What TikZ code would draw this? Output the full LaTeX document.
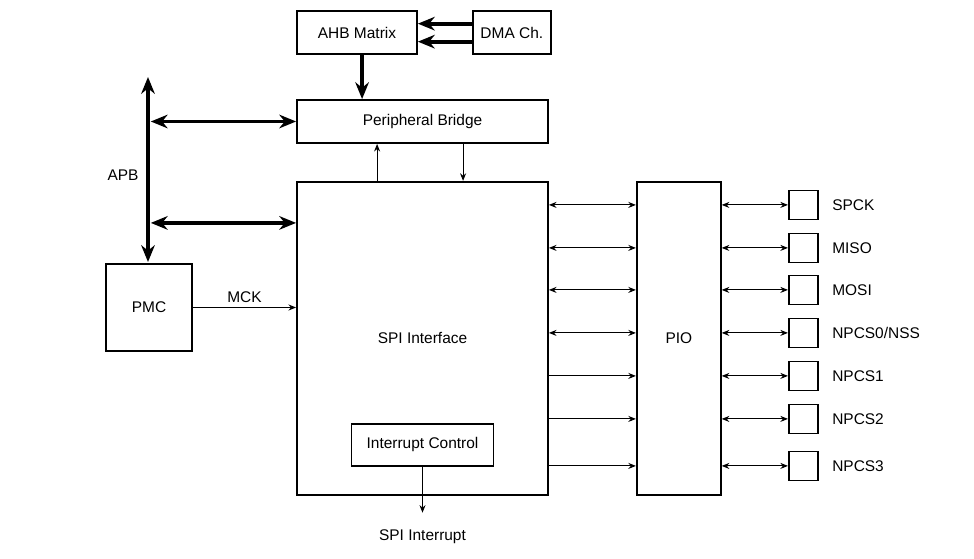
\documentclass[tikz,border=0pt]{standalone}
\usepackage{fontspec}
\setmainfont{Liberation Sans}
\usetikzlibrary{arrows.meta,positioning}

\begin{document}
\begin{tikzpicture}[
        node distance=1cm,
        font=\fontsize{11}{13}\selectfont,
        box/.style={draw, line width=1.3pt, align=center, inner sep=0pt},
        pinbox/.style={draw, line width=1.1pt, minimum size=0.725cm, inner sep=0pt},
        bus/.style={line width=2.8pt, >={Stealth[length=0.42cm, width=0.34cm]}},
        wire/.style={line width=0.7pt, >={Stealth[length=0.19cm, width=0.15cm]}}
    ]
        \useasboundingbox (0,0) rectangle (24.35,-13.975);

        \node[box, minimum width=6.275cm, minimum height=1.075cm] (bridge) at (10.5625,-3.0375) {Peripheral Bridge};
        \node[box, minimum width=3cm, minimum height=1.075cm, above=1.1cm of bridge.north west, anchor=south west] (ahb) {AHB Matrix};
        \node[box, minimum width=1.95cm, minimum height=1.075cm, right=1.35cm of ahb] (dma) {DMA Ch.};

        \node[box, minimum width=6.275cm, minimum height=7.825cm, below=0.925cm of bridge] (spi) {SPI Interface};
        \node[box, minimum width=3.55cm, minimum height=1.05cm, above=0.725cm of spi.south] (intc) {Interrupt Control};
        \node[below=1.45cm of intc] (irq) {SPI Interrupt};

        \node[box, minimum width=2.1cm, minimum height=7.825cm, right=2.175cm of spi] (pio) {PIO};
        \node[box, minimum width=2.15cm, minimum height=2.175cm] (pmc) at (3.725,-7.6875) {PMC};

        \coordinate (apbtop) at (3.7,-1.925);
        \coordinate (apbbot) at (3.7,-6.55);

        \foreach \name/\dy [count=\i] in {SPCK/0.6, MISO/1.675, MOSI/2.725, {NPCS0/NSS}/3.8, NPCS1/4.875, NPCS2/5.95, NPCS3/7.125} {
            \node[pinbox] (p\i) at ([xshift=2.0375cm, yshift=-\dy cm] pio.north east) {};
            \node[right=0.22cm of p\i] (l\i) {\name};
        }

        \draw[bus, ->] ([yshift=0.225cm]dma.west) -- ([yshift=0.225cm]ahb.east);
        \draw[bus, ->] ([yshift=-0.225cm]dma.west) -- ([yshift=-0.225cm]ahb.east);
        \draw[bus, ->] ([xshift=1.65cm]ahb.south west) -- ([xshift=1.65cm]bridge.north west);

        \draw[bus, <->] (apbtop) -- (apbbot) node[pos=0.53, left=2pt] {APB};
        \draw[bus, <->, shorten <=2pt] (bridge.west -| apbtop) -- (bridge.west);
        \draw[bus, <->, shorten <=2pt] ([yshift=-1.05cm]spi.north west -| apbtop) -- ([yshift=-1.05cm]spi.north west);

        \draw[wire, ->] (pmc.east) -- (pmc.east -| spi.west) node[midway, above] {MCK};
        \draw[wire, ->] ([xshift=2.025cm]spi.north west) -- ([xshift=2.025cm]bridge.south west);
        \draw[wire, ->] ([xshift=4.175cm]bridge.south west) -- ([xshift=4.175cm]spi.north west);
        \draw[wire, ->, shorten >=0.3cm] (intc) -- (irq);

        \foreach \i in {1,...,4}
            \draw[wire, <->] (spi.east |- p\i) -- (pio.west |- p\i);
        \foreach \i in {5,6,7}
            \draw[wire, ->] (spi.east |- p\i) -- (pio.west |- p\i);
        \foreach \i in {1,...,7}
            \draw[wire, <->] (pio.east |- p\i) -- (p\i);
    \end{tikzpicture}
\end{document}
